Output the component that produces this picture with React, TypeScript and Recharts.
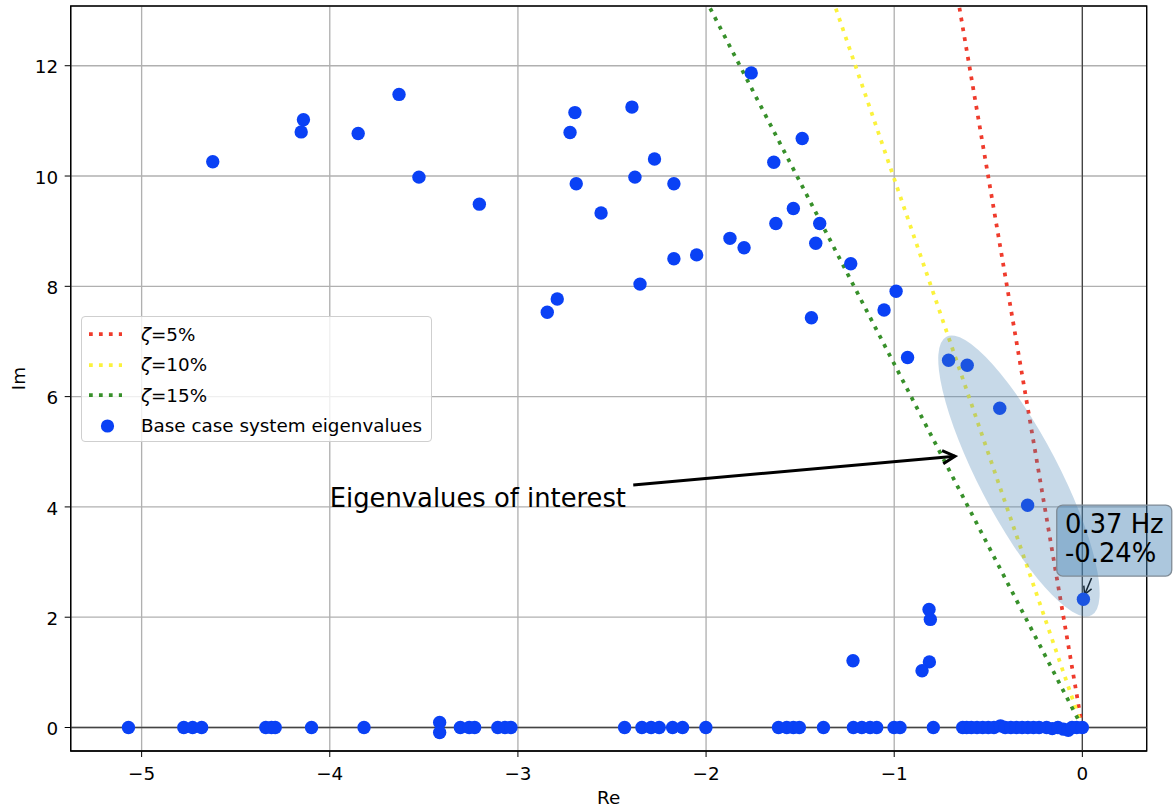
import React from 'react';
import {
  ComposedChart,
  Scatter,
  Line,
  XAxis,
  YAxis,
  CartesianGrid,
  ReferenceLine,
  ReferenceDot,
  ReferenceArea,
  Legend,
} from 'recharts';

const FONT = '"DejaVu Sans", "Liberation Sans", sans-serif';
const AXIS_FS = 18.33;
const NOTE_FS = 25.8;

// Complex eigenvalues (upper half plane)
const complexRe = [
  -4.622, -4.14, -4.152, -3.849, -3.632, -3.526, -3.205, -2.697, -2.723, -2.394,
  -2.274, -2.69, -2.378, -2.558, -2.351, -2.791, -2.844, -1.76, -1.489, -1.64,
  -2.171, -1.536, -1.629, -1.396, -1.417, -1.873, -1.798, -2.171, -2.05, -1.231,
  -0.99, -1.054, -1.44, -0.929, -0.711, -0.612, -0.439, -0.291, 0.0056, -0.815,
  -0.808, -1.219, -0.813, -0.852,
];
const complexIm = [
  10.26, 11.02, 10.8, 10.77, 11.48, 9.98, 9.49, 11.15, 10.79, 11.25,
  10.31, 9.86, 9.98, 9.33, 8.04, 7.77, 7.53, 11.87, 10.68, 10.25,
  9.86, 9.41, 9.14, 9.14, 8.78, 8.87, 8.7, 8.5, 8.57, 8.41,
  7.91, 7.57, 7.43, 6.71, 6.66, 6.57, 5.79, 4.03, 2.325, 2.14,
  1.96, 1.21, 1.19, 1.03,
];

// Eigenvalues on / near the real axis
const realAxisRe = [
  -5.07, -4.776, -4.729, -4.681, -4.34, -4.31, -4.29, -4.097, -3.818, -3.416,
  -3.416, -3.306, -3.259, -3.23, -3.107, -3.069, -3.037, -2.433, -2.341, -2.292,
  -2.249, -2.178, -2.125, -2.001, -1.615, -1.571, -1.536, -1.504, -1.376, -1.217,
  -1.172, -1.128, -1.093, -1.001, -0.969, -0.792, -0.636, -0.615, -0.59, -0.56,
  -0.53, -0.5, -0.47, -0.435, -0.41, -0.38, -0.35, -0.32, -0.29, -0.26,
  -0.23, -0.19, -0.16, -0.13, -0.1, -0.075, -0.055, -0.03, 0.0,
];
const realAxisIm = [
  0, 0, 0, 0, 0, 0, 0, 0, 0, 0.09,
  -0.09, 0, 0, 0, 0, 0, 0, 0, 0, 0,
  0, 0, 0, 0, 0, 0, 0, 0, 0, 0,
  0, 0, 0, 0, 0, 0, 0, 0, 0, 0,
  0, 0, 0, 0.03, 0, 0, 0, 0, 0, 0,
  0, 0, -0.02, 0, -0.03, -0.05, 0, 0, 0,
];

// Constant damping-ratio lines (origin to the top end of each line)
const dampingLabels = ['5%', '10%', '15%'];
const dampingColors = ['#ef3b2c', '#fbf23c', '#37902a'];
const dampingTopRe = [-0.7009, -1.4071, -2.1237];
const dampingTopIm = [14, 14, 14];

const xTicks = [-5, -4, -3, -2, -1, 0];
const yTicks = [0, 2, 4, 6, 8, 10, 12];
const xDomain: [number, number] = [-5.377, 0.342];
const yDomain: [number, number] = [-0.426, 13.083];

const eigenvalues = [
  ...complexRe.map((re, i) => ({ re, im: complexIm[i] })),
  ...realAxisRe.map((re, i) => ({ re, im: realAxisIm[i] })),
];

const dampingLines = dampingLabels.map((label, i) => ({
  label,
  color: dampingColors[i],
  data: [
    { re: 0, im: 0 },
    { re: dampingTopRe[i], im: dampingTopIm[i] },
  ],
}));

const SCATTER_COLOR = '#0a41f5';
const fmt = (v: number) => (v < 0 ? '\u2212' + Math.abs(v) : String(v));

const ArrowShape = (headLen: number, width: number) => (p: any) => {
  const { x1, y1, x2, y2 } = p;
  const a = Math.atan2(y2 - y1, x2 - x1);
  const phi = (28 * Math.PI) / 180;
  const hx1 = x2 - headLen * Math.cos(a - phi);
  const hy1 = y2 - headLen * Math.sin(a - phi);
  const hx2 = x2 - headLen * Math.cos(a + phi);
  const hy2 = y2 - headLen * Math.sin(a + phi);
  return (
    <g>
      <line x1={x1} y1={y1} x2={x2} y2={y2} stroke="#000" strokeWidth={width} />
      <polyline
        points={`${hx1},${hy1} ${x2},${y2} ${hx2},${hy2}`}
        fill="none"
        stroke="#000"
        strokeWidth={width}
        strokeLinejoin="miter"
      />
    </g>
  );
};

const LegendBox = () => (
  <div
    style={{
      width: 351,
      height: 126,
      boxSizing: 'border-box',
      border: '1px solid #cfcfcf',
      borderRadius: 4,
      background: 'rgba(255,255,255,0.8)',
      position: 'relative',
      fontFamily: FONT,
      fontSize: AXIS_FS,
      color: '#000',
    }}
  >
    {dampingLines.map((d, i) => (
      <div key={d.label} style={{ position: 'absolute', left: 6, top: 5 + i * 30.5, height: 24, display: 'flex', alignItems: 'center' }}>
        <svg width={34} height={8} style={{ display: 'block' }}>
          <line x1={1} y1={4} x2={34} y2={4} stroke={d.color} strokeWidth={3.75} strokeDasharray="3.75 6.2" />
        </svg>
        <span style={{ marginLeft: 19, whiteSpace: 'nowrap' }}>
          <i>ζ</i>={d.label}
        </span>
      </div>
    ))}
    <div style={{ position: 'absolute', left: 6, top: 5 + 3 * 30.5, height: 24, display: 'flex', alignItems: 'center' }}>
      <svg width={34} height={16} style={{ display: 'block' }}>
        <circle cx={19.5} cy={8} r={6.6} fill={SCATTER_COLOR} />
      </svg>
      <span style={{ marginLeft: 19, whiteSpace: 'nowrap' }}>Base case system eigenvalues</span>
    </div>
  </div>
);

export default function App() {
  return (
    <div style={{ position: 'absolute', left: 0, top: 0, width: 1175, height: 808, background: '#fff', fontFamily: FONT }}>
      <ComposedChart width={1175} height={808} margin={{ top: 6, right: 28.3, bottom: 0, left: 0 }}>
        <CartesianGrid stroke="#b0b0b0" strokeWidth={1.33} />
        <XAxis
          type="number"
          dataKey="re"
          domain={xDomain}
          ticks={xTicks}
          allowDataOverflow
          tickFormatter={fmt}
          height={57}
          tickSize={6}
          tickMargin={9.5}
          stroke="#000"
          tick={{ fill: '#000', fontSize: AXIS_FS, fontFamily: FONT }}
          label={{ value: 'Re', position: 'insideBottom', offset: 4, style: { fontSize: AXIS_FS, fontFamily: FONT, fill: '#000' } }}
        />
        <YAxis
          type="number"
          domain={yDomain}
          ticks={yTicks}
          allowDataOverflow
          tickFormatter={fmt}
          width={70.7}
          tickSize={6}
          tickMargin={6.5}
          stroke="#000"
          tick={{ fill: '#000', fontSize: AXIS_FS, fontFamily: FONT, dy: 1.2 }}
          label={{ value: 'Im', angle: -90, position: 'insideLeft', offset: 18.5, style: { fontSize: AXIS_FS, fontFamily: FONT, fill: '#000', textAnchor: 'middle' } }}
        />
        <ReferenceLine x={0} stroke="#444" strokeWidth={1.3} />
        <ReferenceLine y={0} stroke="#444" strokeWidth={1.3} />
        {dampingLines.map((d) => (
          <Line
            key={d.label}
            data={d.data}
            dataKey="im"
            name={'ζ=' + d.label}
            stroke={d.color}
            strokeWidth={3.75}
            strokeDasharray="3.75 6.2"
            dot={false}
            activeDot={false}
            isAnimationActive={false}
          />
        ))}
        <Scatter
          name="Base case system eigenvalues"
          data={eigenvalues}
          dataKey="im"
          fill={SCATTER_COLOR}
          isAnimationActive={false}
          shape={(p: any) => <circle cx={p.cx} cy={p.cy} r={6.7} fill={SCATTER_COLOR} />}
        />
        <ReferenceDot
          x={-0.337}
          y={4.56}
          ifOverflow="visible"
          shape={(p: any) => (
            <ellipse
              cx={p.cx}
              cy={p.cy}
              rx={157}
              ry={40}
              transform={`rotate(62.5 ${p.cx} ${p.cy})`}
              fill="#4682b4"
              fillOpacity={0.3}
            />
          )}
        />
        <ReferenceArea x1={xDomain[0]} x2={xDomain[1]} y1={yDomain[0]} y2={yDomain[1]} fill="none" fillOpacity={0} stroke="#000" strokeWidth={1.33} ifOverflow="visible" />
        <ReferenceLine
          segment={[{ x: -2.387, y: 4.397 }, { x: -0.677, y: 4.92 }]}
          ifOverflow="visible"
          shape={ArrowShape(14, 3)}
        />
        <ReferenceDot
          x={-4}
          y={4}
          ifOverflow="visible"
          shape={(p: any) => (
            <text x={p.cx} y={p.cy} fontSize={NOTE_FS} fontFamily={FONT} fill="#000" textAnchor="start">
              Eigenvalues of interest
            </text>
          )}
        />
        <ReferenceLine
          segment={[{ x: 0.049, y: 2.71 }, { x: 0.012, y: 2.41 }]}
          ifOverflow="visible"
          shape={ArrowShape(9, 1.5)}
        />
        <ReferenceDot
          x={-0.092}
          y={3.39}
          ifOverflow="visible"
          shape={(p: any) => (
            <g>
              <rect
                x={p.cx - 8.3}
                y={p.cy - 35.5}
                width={115}
                height={71}
                rx={6}
                fill="#4682b4"
                fillOpacity={0.45}
                stroke="#7f8b96"
                strokeWidth={1.3}
              />
              <text x={p.cx} y={p.cy - 7.5} fontSize={NOTE_FS} fontFamily={FONT} fill="#000">
                0.37 Hz
              </text>
              <text x={p.cx} y={p.cy + 21.2} fontSize={NOTE_FS} fontFamily={FONT} fill="#000">
                -0.24%
              </text>
            </g>
          )}
        />
        <Legend
          layout="horizontal"
          verticalAlign="middle"
          align="center"
          content={LegendBox}
          wrapperStyle={{ left: 81, top: 316, width: 351, height: 126 }}
        />
      </ComposedChart>
    </div>
  );
}
